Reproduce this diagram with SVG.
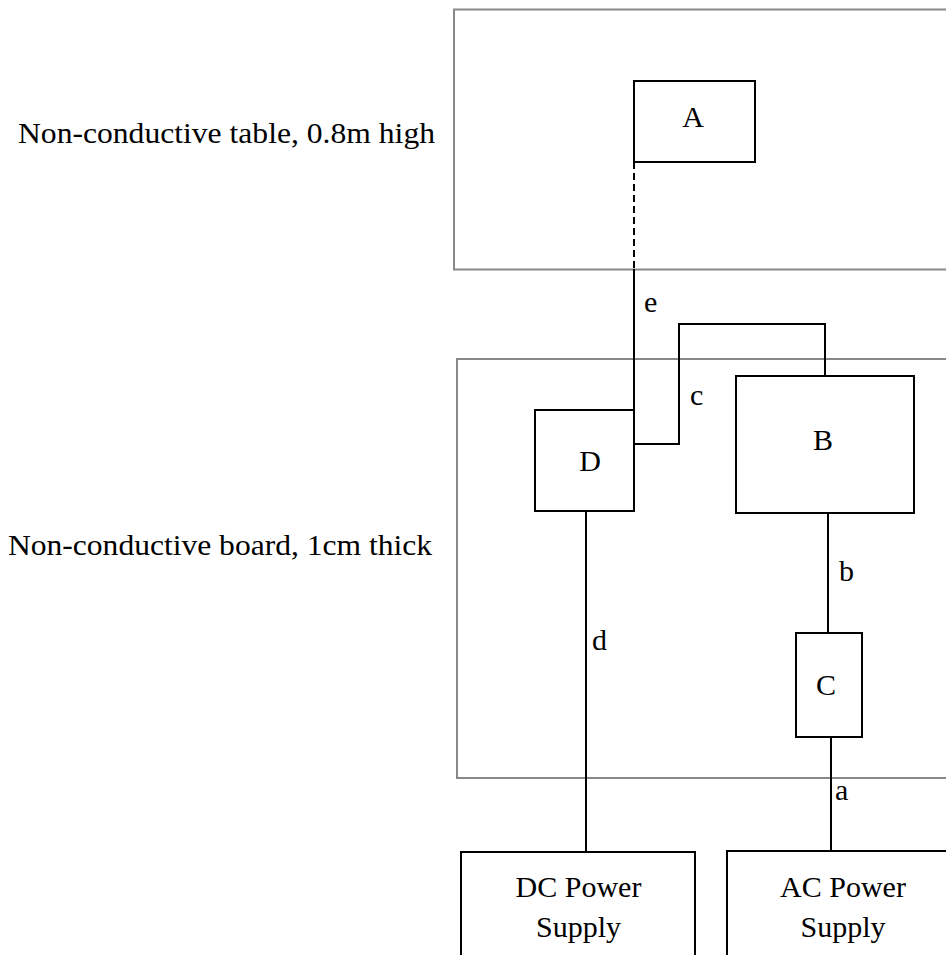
<svg xmlns="http://www.w3.org/2000/svg" width="946" height="955" viewBox="0 0 946 955">
<style>
  text { font-family: "Liberation Serif", "Times New Roman", serif; font-size: 30px; fill: #000; }
  .mid { text-anchor: middle; }
  .frame { fill: none; stroke: #888; stroke-width: 2; }
  .box { fill: #fff; stroke: #000; stroke-width: 2; }
  .wire { fill: none; stroke: #000; stroke-width: 2; }
  .dash { stroke-dasharray: 7 4; }
</style>
<rect width="946" height="955" fill="#fff"/>
<g id="table">
  <rect class="frame" x="454" y="9.5" width="600" height="260"/>
  <text x="18" y="143" textLength="417" lengthAdjust="spacingAndGlyphs">Non-conductive table, 0.8m high</text>
</g>
<g id="board">
  <rect class="frame" x="457" y="359" width="600" height="419"/>
  <text x="8" y="555" textLength="424" lengthAdjust="spacingAndGlyphs">Non-conductive board, 1cm thick</text>
</g>
<g id="connectors">
  <line class="wire dash" x1="634" y1="162" x2="634" y2="269"/>
  <line class="wire" x1="634" y1="269" x2="634" y2="410"/>
  <text x="644" y="312">e</text>
  <polyline class="wire" points="634,444 679,444 679,324 825,324 825,376"/>
  <text x="690" y="405">c</text>
  <line class="wire" x1="828" y1="513" x2="828" y2="633"/>
  <text x="839" y="581">b</text>
  <line class="wire" x1="831" y1="737" x2="831" y2="851"/>
  <text x="835" y="800">a</text>
  <line class="wire" x1="586" y1="511" x2="586" y2="852"/>
  <text x="592" y="650">d</text>
</g>
<g id="A">
  <rect class="box" x="634" y="81" width="121" height="81"/>
  <text class="mid" x="693" y="127">A</text>
</g>
<g id="D">
  <rect class="box" x="535" y="410" width="99" height="101"/>
  <text class="mid" x="590" y="471">D</text>
</g>
<g id="B">
  <rect class="box" x="736" y="376" width="178" height="137"/>
  <text class="mid" x="823" y="450">B</text>
</g>
<g id="C">
  <rect class="box" x="796" y="633" width="66" height="104"/>
  <text class="mid" x="826" y="695">C</text>
</g>
<g id="DC">
  <rect class="box" x="461" y="852" width="234" height="120"/>
  <text class="mid" x="578.5" y="896.5">DC Power</text>
  <text class="mid" x="578.5" y="937">Supply</text>
</g>
<g id="AC">
  <rect class="box" x="727" y="851" width="240" height="120"/>
  <text class="mid" x="843" y="896.5">AC Power</text>
  <text class="mid" x="843" y="937">Supply</text>
</g>
</svg>
